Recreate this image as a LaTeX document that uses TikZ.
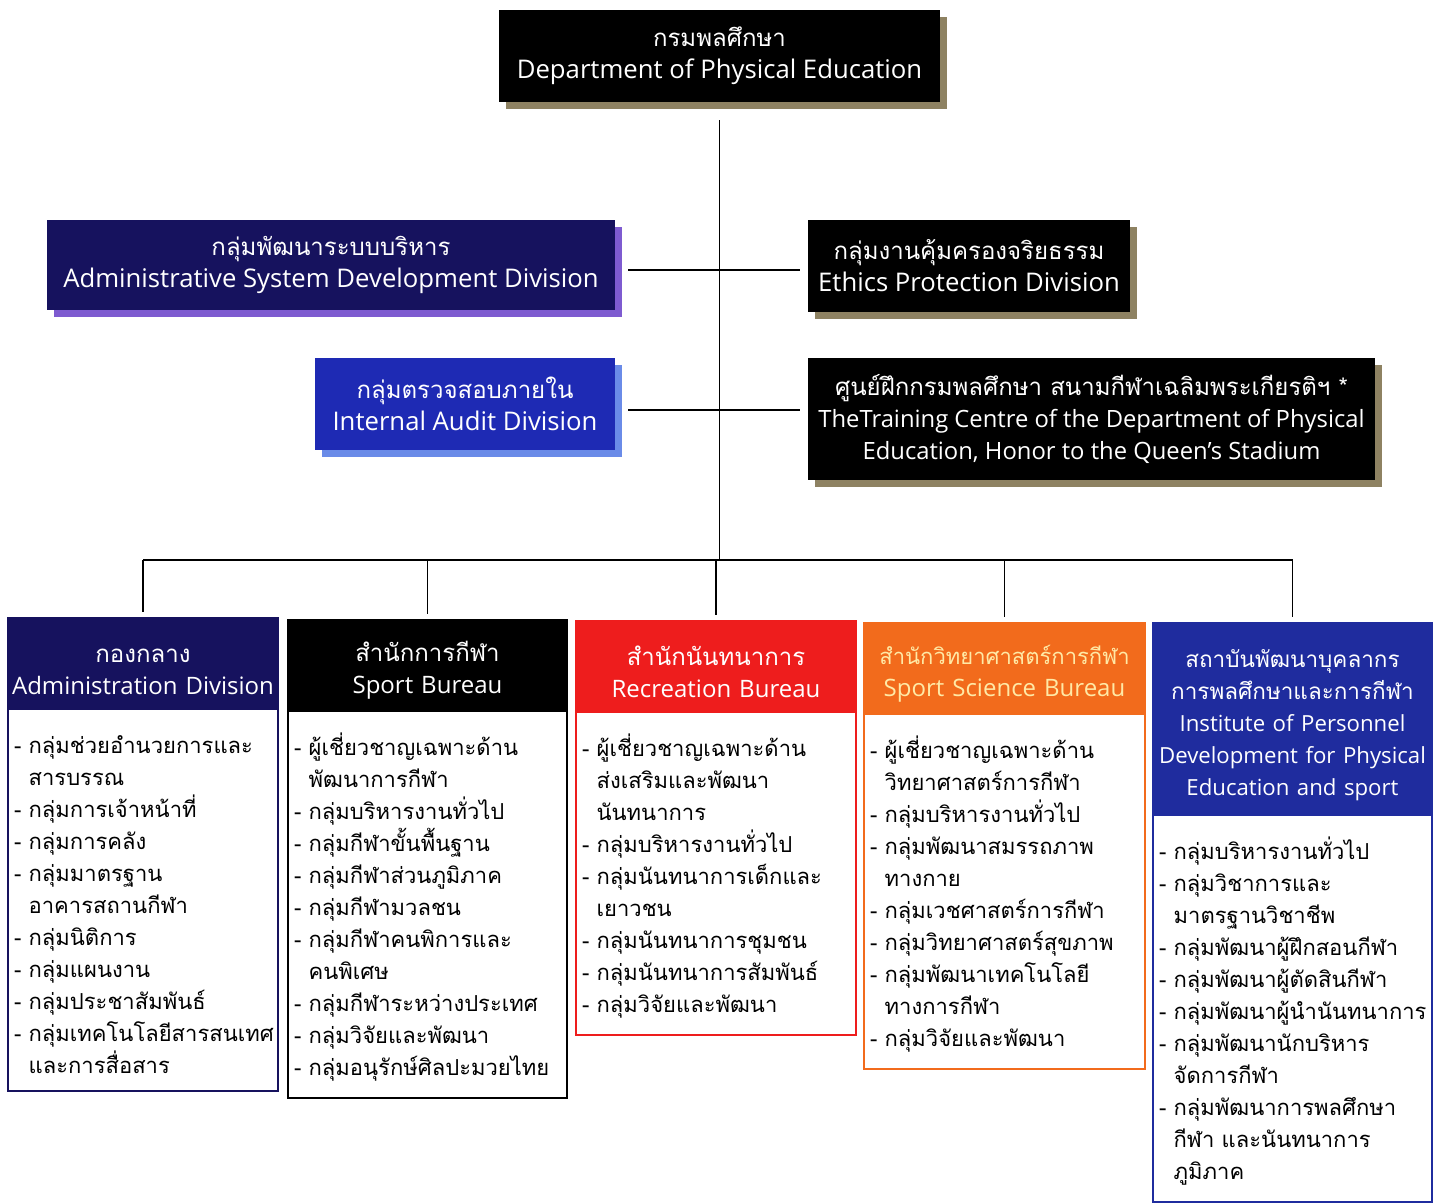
\documentclass[tikz,border=0pt]{standalone}
\usepackage{fontspec}
\setmainfont{Loma}[Script=Thai]
\newfontfamily\latinfont{Open Sans}
\usetikzlibrary{positioning, shadows}

\definecolor{deptnavy}{HTML}{16125E}
\definecolor{auditblue}{HTML}{1E2AB4}
\definecolor{instblue}{HTML}{1F2C9E}
\definecolor{recred}{HTML}{EE1D1D}
\definecolor{sciorange}{HTML}{F26B1C}
\definecolor{scitext}{HTML}{FFE9A6}
\definecolor{shadowkhaki}{HTML}{8E8262}
\definecolor{shadowpurple}{HTML}{7E5BD0}
\definecolor{shadowblue}{HTML}{6A8BE8}

\newcommand{\hangon}{\hphantom{-~}}
\newcommand{\dashon}{\mbox{-}~}
\newcommand{\eng}[2][24]{{\latinfont\fontsize{#1}{32}\selectfont #2}}

\begin{document}
\begin{tikzpicture}[x=1pt, y=-1pt,
                unit box/.style={rectangle, fill=#1, text=white, align=center, inner sep=0pt,
                    font=\fontsize{24}{32}\selectfont},
                cast/.style={drop shadow={shadow xshift=7pt, shadow yshift=-7pt, fill=#1, opacity=1}},
                head box/.style={rectangle, draw=#1, fill=#1, line width=1.5pt, text=white, align=center,
                    anchor=north, inner sep=0pt, minimum height=89pt, font=\fontsize{24}{32}\selectfont,
                    execute at begin node={\rule{0pt}{32pt}}},
                list box/.style={rectangle, draw=#1, line width=2pt, fill=white, align=left, anchor=north,
                    inner xsep=6pt, inner ysep=17pt, font=\fontsize{22}{32}\selectfont,
                    execute at begin node={\rule{0pt}{28pt}}},
                link/.style={line width=1.6pt}
]
    \useasboundingbox (0,0) rectangle (1444,1204);

    % Department at the top
        \node[unit box=black, cast=shadowkhaki, minimum width=441pt, minimum height=92pt] (dept) at (719.5,56)
            {กรมพลศึกษา\\\eng[25.7]{Department of Physical Education}};

    % Divisions beside the trunk
        \node[unit box=deptnavy, cast=shadowpurple, minimum width=568pt, minimum height=90pt] (asd) at (331,265)
            {กลุ่มพัฒนาระบบบริหาร\\\eng[25.7]{Administrative System Development Division}};
        \node[unit box=black, cast=shadowkhaki, minimum width=322pt, minimum height=92pt] (eth) at (969,266)
            {กลุ่มงานคุ้มครองจริยธรรม\\\eng[25.7]{Ethics Protection Division}};
        \node[unit box=auditblue, cast=shadowblue, minimum width=300pt, minimum height=92pt] (aud) at (465,404)
            {กลุ่มตรวจสอบภายใน\\\eng[25.7]{Internal Audit Division}};
        \node[unit box=black, cast=shadowkhaki, minimum width=567pt, minimum height=122pt] (trn) at (1091.5,419)
            {ศูนย์ฝึกกรมพลศึกษา สนามกีฬาเฉลิมพระเกียรติฯ *\\\eng[23.8]{TheTraining Centre of the Department of Physical}\\\eng[23.8]{Education, Honor to the Queen’s Stadium}};

    % Bureau headers
        \node[head box=deptnavy, text width=270pt] (h1) at (143,617) {กองกลาง\\\eng{Administration Division}};
        \node[head box=black, text width=279pt] (h2) at (427.5,619) {สำนักการกีฬา\\\eng{Sport Bureau}};
        \node[head box=recred, text width=280pt] (h3) at (716,620) {สำนักนันทนาการ\\\eng{Recreation Bureau}};
        \node[head box=sciorange, text width=281pt, text=scitext] (h4) at (1004.5,622)
            {{\fontsize{22}{32}\selectfont สำนักวิทยาศาสตร์การกีฬา}\\\eng{Sport Science Bureau}};
        \node[head box=instblue, text width=279pt, minimum height=190pt, font=\fontsize{22.5}{32}\selectfont,
            execute at begin node={\rule{0pt}{27pt}}] (h5) at (1292.5,622)
            {สถาบันพัฒนาบุคลากร\\การพลศึกษาและการกีฬา\\\eng[22.2]{Institute of Personnel}\\\eng[22.2]{Development for Physical}\\\eng[22.2]{Education and sport}};

    % Bureau groups
        \node[list box=deptnavy, text width=258pt, below=0pt of h1] (b1) {%
            \dashon กลุ่มช่วยอำนวยการและ\\\hangon สารบรรณ\\\dashon กลุ่มการเจ้าหน้าที่\\\dashon กลุ่มการคลัง\\%
            \dashon กลุ่มมาตรฐาน\\\hangon อาคารสถานกีฬา\\\dashon กลุ่มนิติการ\\\dashon กลุ่มแผนงาน\\\dashon กลุ่มประชาสัมพันธ์\\%
            \dashon กลุ่มเทคโนโลยีสารสนเทศ\\\hangon และการสื่อสาร};
        \node[list box=black, text width=267pt, below=0pt of h2] (b2) {%
            \dashon ผู้เชี่ยวชาญเฉพาะด้าน\\\hangon พัฒนาการกีฬา\\\dashon กลุ่มบริหารงานทั่วไป\\\dashon กลุ่มกีฬาขั้นพื้นฐาน\\%
            \dashon กลุ่มกีฬาส่วนภูมิภาค\\\dashon กลุ่มกีฬามวลชน\\\dashon กลุ่มกีฬาคนพิการและ\\\hangon คนพิเศษ\\%
            \dashon กลุ่มกีฬาระหว่างประเทศ\\\dashon กลุ่มวิจัยและพัฒนา\\\dashon กลุ่มอนุรักษ์ศิลปะมวยไทย};
        \node[list box=recred, text width=268pt, below=0pt of h3] (b3) {%
            \dashon ผู้เชี่ยวชาญเฉพาะด้าน\\\hangon ส่งเสริมและพัฒนา\\\hangon นันทนาการ\\\dashon กลุ่มบริหารงานทั่วไป\\%
            \dashon กลุ่มนันทนาการเด็กและ\\\hangon เยาวชน\\\dashon กลุ่มนันทนาการชุมชน\\\dashon กลุ่มนันทนาการสัมพันธ์\\%
            \dashon กลุ่มวิจัยและพัฒนา};
        \node[list box=sciorange, text width=269pt, below=0pt of h4] (b4) {%
            \dashon ผู้เชี่ยวชาญเฉพาะด้าน\\\hangon วิทยาศาสตร์การกีฬา\\\dashon กลุ่มบริหารงานทั่วไป\\\dashon กลุ่มพัฒนาสมรรถภาพ\\%
            \hangon ทางกาย\\\dashon กลุ่มเวชศาสตร์การกีฬา\\\dashon กลุ่มวิทยาศาสตร์สุขภาพ\\\dashon กลุ่มพัฒนาเทคโนโลยี\\%
            \hangon ทางการกีฬา\\\dashon กลุ่มวิจัยและพัฒนา};
        \node[list box=instblue, text width=267pt, below=0pt of h5, execute at begin node={\rule{0pt}{23pt}}] (b5) {%
            \dashon กลุ่มบริหารงานทั่วไป\\\dashon กลุ่มวิชาการและ\\\hangon มาตรฐานวิชาชีพ\\\dashon กลุ่มพัฒนาผู้ฝึกสอนกีฬา\\%
            \dashon กลุ่มพัฒนาผู้ตัดสินกีฬา\\\dashon กลุ่มพัฒนาผู้นำนันทนาการ\\\dashon กลุ่มพัฒนานักบริหาร\\\hangon จัดการกีฬา\\%
            \dashon กลุ่มพัฒนาการพลศึกษา\\\hangon กีฬา และนันทนาการ\\\hangon ภูมิภาค};

    % Trunk and bus
        \coordinate (bus) at ([yshift=-458pt]dept.south);
        \draw[link, shorten <=18pt] (dept.south) -- (bus);
        \draw[link] (bus -| h1.north) -- (bus -| h5.north);
        \foreach \h in {h1, h2, h3, h4, h5}
            \draw[link, shorten >=5pt] (bus -| \h.north) -- (\h.north);
    % Side links
        \draw[link, shorten <=13pt, shorten >=8pt] (asd.east |- 0,270) -- (eth.west |- 0,270);
        \draw[link, shorten <=13pt, shorten >=8pt] (aud.east |- 0,410) -- (trn.west |- 0,410);
\end{tikzpicture}
\end{document}
